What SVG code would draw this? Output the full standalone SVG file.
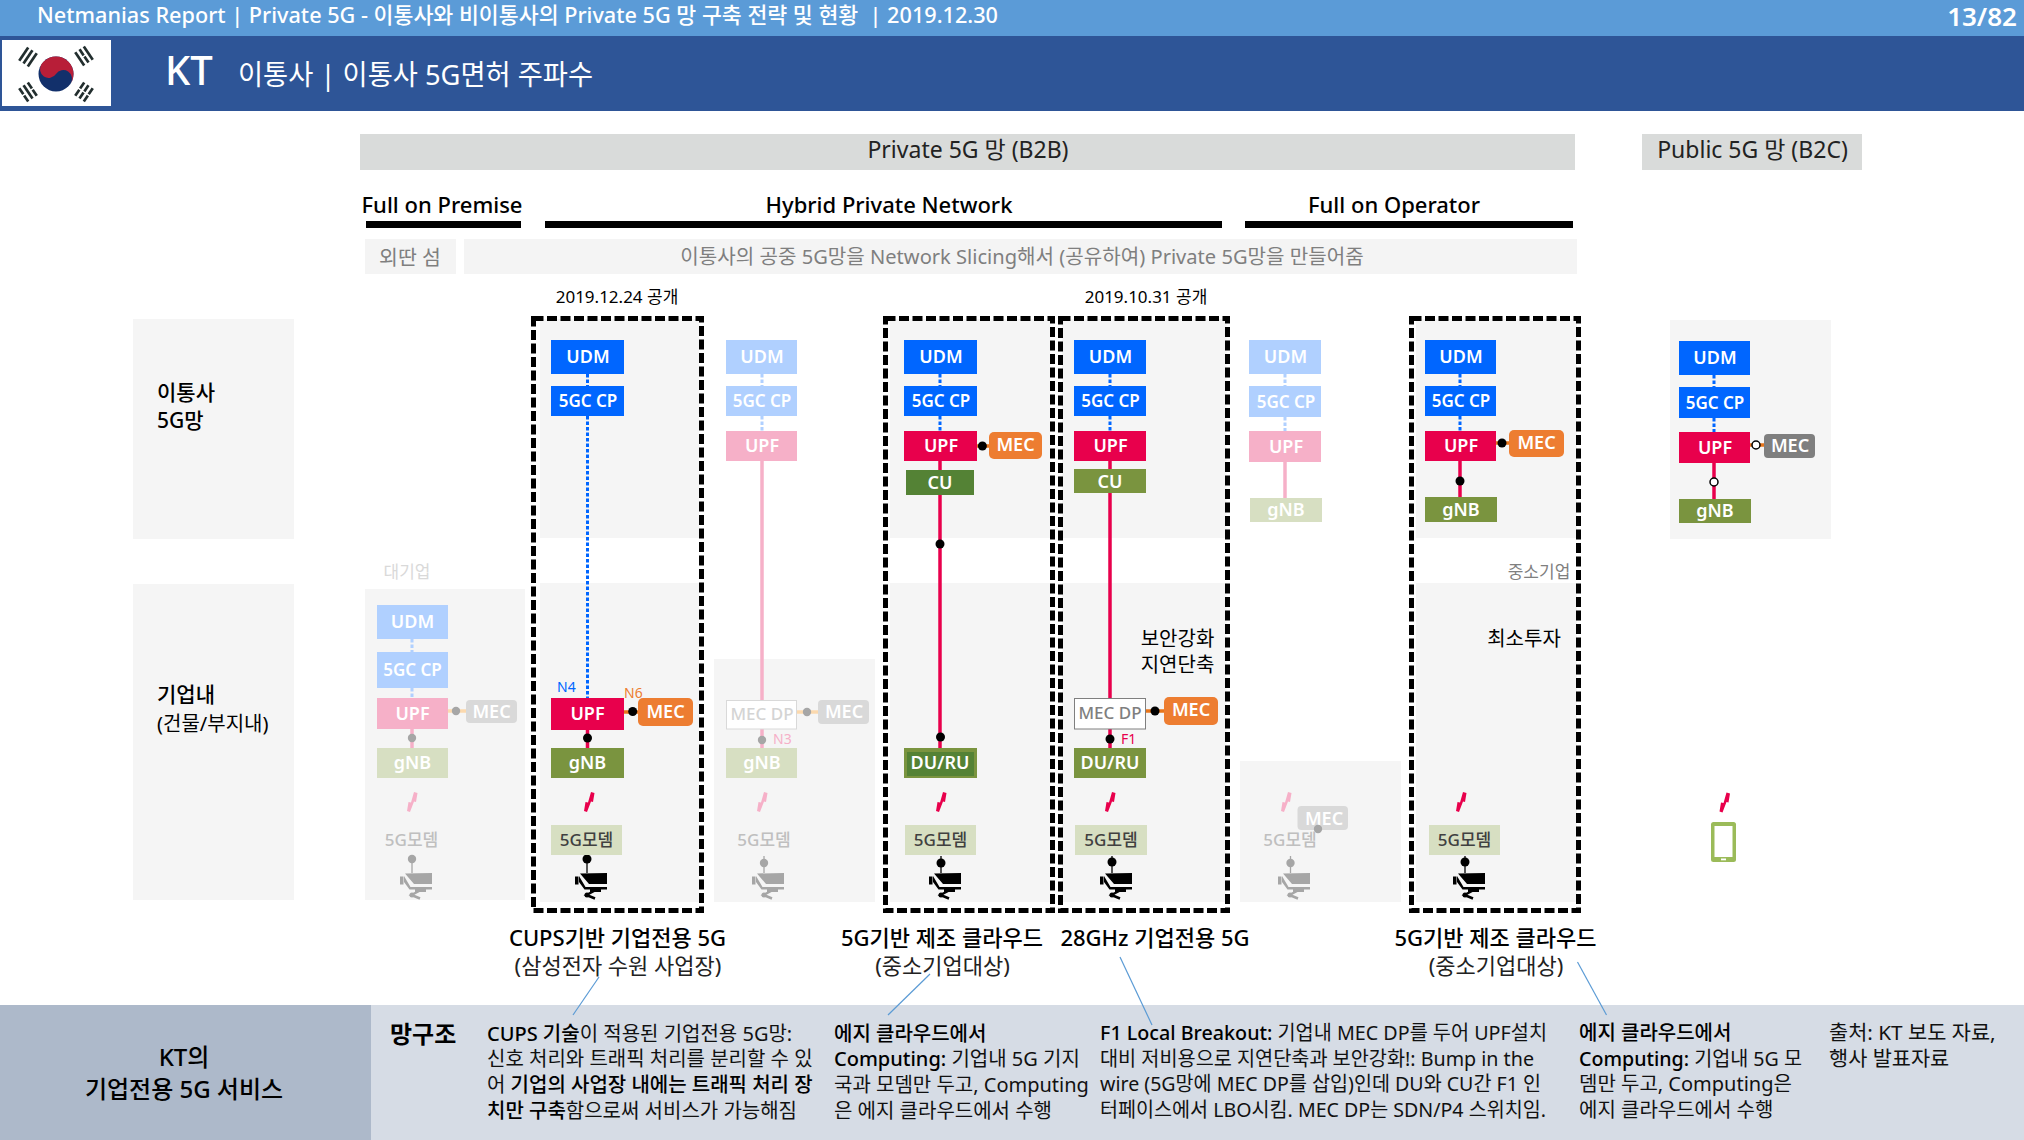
<svg xmlns="http://www.w3.org/2000/svg" width="2024" height="1140" viewBox="0 0 2024 1140">
<style>
text{font-family:"Noto Sans","Noto Sans CJK KR",sans-serif;fill:#000}
.n{fill:#fff;font-size:18px;font-weight:600;text-anchor:middle}
.cp{font-size:17px}
.m{font-size:17px;font-weight:500;text-anchor:middle;fill:#404040}
.mf{font-size:17px;font-weight:500;text-anchor:middle;fill:#bfbfbf}
.c{text-anchor:middle}
.lab{font-size:21px;font-weight:500}
.tag{font-size:14px}
.body{font-size:20px;fill:#111}
.s{font-weight:500;fill:#000}
.panel{fill:#f5f5f5}
.blue{fill:#0066ff}.bluef{fill:#b0d0ff}
.upf{fill:#e8004c}.upff{fill:#f6b0c8}
.gnb{fill:#7a943f}.gnbf{fill:#d7dfc2}.cu{fill:#548235}
.mec{fill:#ed7d31}.mecf{fill:#d9d9d9}.mecg{fill:#7f7f7f}
.dash{fill:none;stroke:#000;stroke-width:5;stroke-dasharray:10 3.500}
.l{stroke-width:3.500;fill:none}
.lb{stroke:#0066ff;stroke-width:3;stroke-dasharray:3.500 2;fill:none}
.lbf{stroke:#b0d0ff;stroke-width:3;stroke-dasharray:3.500 2;fill:none}
.lr{stroke:#e8004c}.lrf{stroke:#f6b0c8}.lo{stroke:#e8751a}.lof{stroke:#fbd9ae}
.k{fill:#000}.kf{fill:#a6a6a6}
.thin{stroke-width:1.300;fill:none}
.call{stroke:#5b9bd5;stroke-width:1.200;fill:none}
.ho{fill:#fff;stroke:#000;stroke-width:1.500}
</style>
<defs>
<g id="cam"><path d="M0 3.500h3.500v8H0zM5 .5 32 0v11H14zM4 3 10.500 14H32v2.500H9.500L4 9zM15 16.500h11v2.500H15z"/><path d="M19 18 11.500 22 20 25.500" fill="none" stroke="currentColor" stroke-width="2.500"/><circle cx="12" cy="22" r="2.500"/></g>
<path id="bolt" d="M7 0 10.500 1 9 10 7 9.500 3 20 0 19 1.500 10 4 10.500z"/>
</defs>
<rect id="band-top" width="2024" height="36" fill="#5b9bd7"/>
<rect id="band-head" y="36" width="2024" height="75" fill="#2e5597"/>
<text x="37" y="23" font-size="22" font-weight="500" style="fill:#fff;white-space:pre" textLength="961" lengthAdjust="spacingAndGlyphs">Netmanias Report | Private 5G - 이통사와 비이통사의 Private 5G 망 구축 전략 및 현황  | 2019.12.30</text>
<text x="2017" y="26" font-size="26" font-weight="600" style="fill:#fff" text-anchor="end">13/82</text>
<g id="flag">
<rect x="2" y="40" width="109" height="66" fill="#fff"/>
<circle cx="56" cy="74" r="17.500" fill="#12306b"/>
<path transform="translate(56 74) rotate(33.700)" d="M-17.500 0A17.500 17.500 0 0 1 17.500 0A8.750 8.750 0 0 0 0 0A8.750 8.750 0 0 1-17.500 0z" fill="#b81e38"/>
<g fill="#222e2e">
<g transform="translate(28 57) rotate(-56)"><rect x="-8" y="-6.500" width="16" height="2.700"/><rect x="-8" y="-1.400" width="16" height="2.700"/><rect x="-8" y="3.800" width="16" height="2.700"/></g>
<g transform="translate(84 56) rotate(56)"><rect x="-8" y="-6.500" width="16" height="2.700"/><rect x="-8" y="-1.400" width="7.300" height="2.700"/><rect x=".7" y="-1.400" width="7.300" height="2.700"/><rect x="-8" y="3.800" width="16" height="2.700"/></g>
<g transform="translate(28 92) rotate(56)"><rect x="-8" y="-6.500" width="7.300" height="2.700"/><rect x=".7" y="-6.500" width="7.300" height="2.700"/><rect x="-8" y="-1.400" width="16" height="2.700"/><rect x="-8" y="3.800" width="7.300" height="2.700"/><rect x=".7" y="3.800" width="7.300" height="2.700"/></g>
<g transform="translate(84 92) rotate(-56)"><rect x="-8" y="-6.500" width="7.300" height="2.700"/><rect x=".7" y="-6.500" width="7.300" height="2.700"/><rect x="-8" y="-1.400" width="7.300" height="2.700"/><rect x=".7" y="-1.400" width="7.300" height="2.700"/><rect x="-8" y="3.800" width="7.300" height="2.700"/><rect x=".7" y="3.800" width="7.300" height="2.700"/></g>
</g>
</g>
<text x="165" y="85" font-size="40" font-weight="500" style="fill:#fff">KT</text>
<text x="238" y="85" font-size="28" style="fill:#fff" textLength="355" lengthAdjust="spacingAndGlyphs">이통사 | 이통사 5G면허 주파수</text>

<g id="headers">
<rect x="360" y="134" width="1215" height="36" fill="#d9dbda"/>
<text x="968" y="158" font-size="23" class="c" style="fill:#222">Private 5G 망 (B2B)</text>
<rect x="1642" y="134" width="220" height="36" fill="#d9dbda"/>
<text x="1752.500" y="158" font-size="23" class="c" style="fill:#222">Public 5G 망 (B2C)</text>
<text x="442" y="213" font-size="22" font-weight="500" class="c">Full on Premise</text>
<rect x="366" y="221" width="155" height="7"/>
<text x="889" y="213" font-size="22" font-weight="500" class="c">Hybrid Private Network</text>
<rect x="545" y="221" width="677" height="7"/>
<text x="1394" y="213" font-size="22" font-weight="500" class="c">Full on Operator</text>
<rect x="1245" y="221" width="328" height="7"/>
<rect x="365" y="239" width="91" height="35" fill="#f4f4f4"/>
<text x="410" y="264.500" font-size="20.500" class="c" style="fill:#7f7f7f">외딴 섬</text>
<rect x="464" y="239" width="1113" height="35" fill="#f4f4f4"/>
<text x="1022" y="264" font-size="20.100" class="c" style="fill:#7f7f7f">이통사의 공중 5G망을 Network Slicing해서 (공유하여) Private 5G망을 만들어줌</text>
<text x="617" y="302.500" font-size="17" class="c">2019.12.24 공개</text>
<text x="1146" y="302.500" font-size="17" class="c">2019.10.31 공개</text>
</g>

<g id="panels">
<rect class="panel" x="133" y="319" width="161" height="220"/>
<rect class="panel" x="133" y="584" width="161" height="316"/>
<rect class="panel" x="365" y="589" width="160" height="311"/>
<rect class="panel" x="540" y="319" width="159" height="219"/>
<rect class="panel" x="540" y="583" width="159" height="319"/>
<rect class="panel" x="714" y="659" width="161" height="243"/>
<rect class="panel" x="890" y="319" width="160" height="219"/>
<rect class="panel" x="890" y="583" width="160" height="319"/>
<rect class="panel" x="1062" y="319" width="164.500" height="219"/>
<rect class="panel" x="1062" y="583" width="164.500" height="319"/>
<rect class="panel" x="1240" y="761" width="161" height="141"/>
<rect class="panel" x="1416" y="319" width="161" height="219"/>
<rect class="panel" x="1416" y="583" width="161" height="319"/>
<rect class="panel" x="1670" y="320" width="161" height="219"/>
</g>
<text x="157" y="400" class="lab">이통사</text>
<text x="157" y="428" class="lab">5G망</text>
<text x="157" y="702" class="lab">기업내</text>
<text x="157" y="730.500" font-size="20">(건물/부지내)</text>
<text x="407" y="578" font-size="17" class="c" style="fill:#d9d9d9">대기업</text>
<text x="1539" y="578" font-size="17" class="c" style="fill:#7f7f7f">중소기업</text>
<text x="1177.500" y="645.500" font-size="20" class="c">보안강화</text>
<text x="1177.500" y="671.500" font-size="20" class="c">지연단축</text>
<text x="1524" y="645.500" font-size="20" class="c">최소투자</text>

<g id="dashed-boxes">
<rect class="dash" x="533.500" y="318.500" width="168" height="592"/>
<rect class="dash" x="885.500" y="318.500" width="167" height="592"/>
<rect class="dash" x="1060.500" y="318.500" width="167" height="592"/>
<rect class="dash" x="1411.500" y="318.500" width="167" height="592"/>
</g>

<g id="connectors">
<path class="lbf" d="M412 639V652M412 688V698"/>
<path class="l lrf" d="M412 729V748"/><path class="l lof" d="M448 711H466"/>
<circle class="kf" cx="412" cy="738" r="4.200"/><circle class="kf" cx="456" cy="711" r="4.200"/>
<path class="thin" stroke="#a6a6a6" d="M412 860V873"/><circle class="kf" cx="412" cy="859" r="4.200"/>
<path class="lb" d="M587.500 374V386M587.500 416V698"/>
<path class="l lr" d="M587.500 730V748"/><path class="l lo" d="M624 712H638"/>
<circle class="k" cx="587.500" cy="738" r="4.500"/><circle class="k" cx="632.700" cy="711.500" r="4.500"/>
<path class="thin" stroke="#000" d="M587 859V873"/><circle class="k" cx="587" cy="859" r="4.500"/>
<path class="lbf" d="M762 374V386M762 416V431"/>
<path class="l lrf" d="M762 461V700M762 729V748"/><path class="l lof" d="M797 712H818"/>
<circle class="kf" cx="762" cy="740" r="4.200"/><circle class="kf" cx="807" cy="712" r="4.200"/>
<path class="thin" stroke="#a6a6a6" d="M764 856V873"/><circle class="kf" cx="764" cy="863" r="4.200"/>
<path class="lb" d="M940 374V386M940 416V431"/>
<path class="l lr" d="M940 461V748"/><path class="l lo" d="M977 446H989"/>
<circle class="k" cx="982.400" cy="446" r="4.500"/><circle class="k" cx="940" cy="544" r="4.500"/><circle class="k" cx="940.500" cy="737" r="4.500"/>
<path class="thin" stroke="#000" d="M941 856V873"/><circle class="k" cx="941" cy="863" r="4.500"/>
<path class="lb" d="M1110 374V386M1110 416V431"/>
<path class="l lr" d="M1110 461V698M1110 729V748"/><path class="l lo" d="M1146 711H1164"/>
<circle class="k" cx="1110" cy="739" r="4.500"/><circle class="k" cx="1155" cy="711" r="4.500"/>
<path class="thin" stroke="#000" d="M1112 856V873"/><circle class="k" cx="1112" cy="862" r="4.500"/>
<path class="lbf" d="M1285 374V386M1285 417V431"/>
<path class="l lrf" d="M1285 462V498"/>
<path class="thin" stroke="#a6a6a6" d="M1290.500 856V873"/><circle class="kf" cx="1290.500" cy="863" r="4.200"/>
<path class="lb" d="M1460 374V386M1460 416V431"/>
<path class="l lr" d="M1460 461V497"/><path class="l lo" d="M1496 443H1509"/>
<circle class="k" cx="1460" cy="481" r="4.500"/><circle class="k" cx="1502" cy="443" r="4.500"/>
<path class="thin" stroke="#000" d="M1465 856V873"/><circle class="k" cx="1465" cy="862" r="4.500"/>
<path class="lb" d="M1714 375V387M1714 418V432"/>
<path class="l lr" d="M1714 463V499"/><path class="l lo" d="M1750 445H1764"/>
<circle class="ho" cx="1714" cy="482" r="4"/><circle class="ho" cx="1756" cy="445" r="4"/>
</g>

<g id="c0-udm"><rect class="bluef" x="377" y="605" width="71" height="34"/><text class="n" x="412.500" y="628">UDM</text></g>
<g id="c0-cp"><rect class="bluef" x="377" y="652" width="71" height="36"/><text class="n cp" x="412.500" y="676">5GC CP</text></g>
<g id="c0-upf"><rect class="upff" x="377" y="698" width="71" height="31"/><text class="n" x="412.500" y="720">UPF</text></g>
<g id="c0-mec"><rect class="mecf" x="466" y="700" width="51" height="23" rx="4"/><text class="n" x="491.500" y="718">MEC</text></g>
<g id="c0-gnb"><rect class="gnbf" x="377" y="748" width="71" height="30"/><text class="n" x="412.500" y="769">gNB</text></g>
<use id="c0-bolt" href="#bolt" x="407" y="792" fill="#f6b0c8"/>
<g id="c0-modem"><text class="mf" x="411.500" y="846">5G모뎀</text></g>
<use id="c0-cam" href="#cam" x="400" y="873" fill="#a6a6a6" color="#a6a6a6"/>

<g id="c1-udm"><rect class="blue" x="551" y="340" width="73" height="34"/><text class="n" x="588" y="363">UDM</text></g>
<g id="c1-cp"><rect class="blue" x="551" y="386" width="73" height="30"/><text class="n cp" x="588" y="407">5GC CP</text></g>
<g id="c1-upf"><rect class="upf" x="551" y="698" width="73" height="32"/><text class="n" x="587.500" y="720">UPF</text></g>
<g id="c1-mec"><rect class="mec" x="638" y="698" width="55" height="28" rx="5"/><text class="n" x="665.500" y="718">MEC</text></g>
<g id="c1-gnb"><rect class="gnb" x="551" y="748" width="73" height="30"/><text class="n" x="587.500" y="769">gNB</text></g>
<use id="c1-bolt" href="#bolt" x="584" y="792" fill="#e8004c"/>
<g id="c1-modem"><rect class="gnbf" x="551" y="825" width="71" height="30"/><text class="m" x="586.500" y="846">5G모뎀</text></g>
<use id="c1-cam" href="#cam" x="575" y="873" fill="#000" color="#000"/>
<text x="557" y="692" class="tag" style="fill:#0066ff">N4</text>
<text x="624" y="698" class="tag" style="fill:#ed7d31">N6</text>

<g id="c2-udm"><rect class="bluef" x="726" y="340" width="71" height="34"/><text class="n" x="762" y="363">UDM</text></g>
<g id="c2-cp"><rect class="bluef" x="726" y="386" width="71" height="30"/><text class="n cp" x="762" y="407">5GC CP</text></g>
<g id="c2-upf"><rect class="upff" x="726" y="431" width="71" height="30"/><text class="n" x="762" y="452">UPF</text></g>
<g id="c2-dp"><rect x="726.500" y="700.500" width="70" height="28.500" fill="#fff" stroke="#d9d9d9"/><text class="n cp" style="fill:#d4d4d4;font-weight:500" x="762" y="720">MEC DP</text></g>
<g id="c2-mec"><rect class="mecf" x="818" y="700" width="51" height="24" rx="4"/><text class="n" x="844" y="718">MEC</text></g>
<g id="c2-gnb"><rect class="gnbf" x="726" y="748" width="71" height="30"/><text class="n" x="762" y="769">gNB</text></g>
<use id="c2-bolt" href="#bolt" x="757" y="792" fill="#f6b0c8"/>
<g id="c2-modem"><text class="mf" x="764" y="846">5G모뎀</text></g>
<use id="c2-cam" href="#cam" x="752" y="873" fill="#a6a6a6" color="#a6a6a6"/>
<text x="773" y="744" class="tag" style="fill:#f6b0c8">N3</text>

<g id="c3-udm"><rect class="blue" x="904" y="340" width="73" height="34"/><text class="n" x="941" y="363">UDM</text></g>
<g id="c3-cp"><rect class="blue" x="904" y="386" width="73" height="30"/><text class="n cp" x="941" y="407">5GC CP</text></g>
<g id="c3-upf"><rect class="upf" x="904" y="431" width="73" height="30"/><text class="n" x="941" y="452">UPF</text></g>
<g id="c3-mec"><rect class="mec" x="989" y="432" width="53" height="27" rx="5"/><text class="n" x="1015.500" y="451">MEC</text></g>
<g id="c3-cu"><rect class="cu" x="906" y="470" width="68" height="25"/><text class="n" x="940" y="489">CU</text></g>
<g id="c3-du"><rect class="gnb" x="904" y="748" width="73" height="30"/><rect class="cu" x="907" y="752" width="67" height="24"/><text class="n" x="940" y="769">DU/RU</text></g>
<use id="c3-bolt" href="#bolt" x="936" y="792" fill="#e8004c"/>
<g id="c3-modem"><rect class="gnbf" x="905" y="825" width="71" height="30"/><text class="m" x="940.500" y="846">5G모뎀</text></g>
<use id="c3-cam" href="#cam" x="929" y="873" fill="#000" color="#000"/>

<g id="c4-udm"><rect class="blue" x="1074" y="340" width="72" height="34"/><text class="n" x="1110.500" y="363">UDM</text></g>
<g id="c4-cp"><rect class="blue" x="1074" y="386" width="72" height="30"/><text class="n cp" x="1110.500" y="407">5GC CP</text></g>
<g id="c4-upf"><rect class="upf" x="1074" y="431" width="72" height="30"/><text class="n" x="1110.500" y="452">UPF</text></g>
<g id="c4-cu"><rect class="gnb" x="1074" y="469" width="72" height="24"/><text class="n" x="1110" y="488">CU</text></g>
<g id="c4-dp"><rect x="1074.500" y="698.500" width="71" height="30.500" fill="#fff" stroke="#7f7f7f"/><text class="n cp" style="fill:#7f7f7f;font-weight:500" x="1110" y="719">MEC DP</text></g>
<g id="c4-mec"><rect class="mec" x="1164" y="697" width="54" height="28" rx="5"/><text class="n" x="1191" y="716">MEC</text></g>
<g id="c4-du"><rect class="gnb" x="1074" y="748" width="72" height="30"/><text class="n" x="1110" y="769">DU/RU</text></g>
<use id="c4-bolt" href="#bolt" x="1105" y="792" fill="#e8004c"/>
<g id="c4-modem"><rect class="gnbf" x="1075" y="825" width="72" height="30"/><text class="m" x="1111" y="846">5G모뎀</text></g>
<use id="c4-cam" href="#cam" x="1100" y="873" fill="#000" color="#000"/>
<text x="1121" y="744" class="tag" style="fill:#e8004c">F1</text>

<g id="c5-udm"><rect class="bluef" x="1249" y="340" width="72" height="34"/><text class="n" x="1285.500" y="363">UDM</text></g>
<g id="c5-cp"><rect class="bluef" x="1249" y="386" width="72" height="31"/><text class="n cp" x="1286" y="408">5GC CP</text></g>
<g id="c5-upf"><rect class="upff" x="1249" y="431" width="72" height="31"/><text class="n" x="1286" y="453">UPF</text></g>
<g id="c5-gnb"><rect class="gnbf" x="1250" y="498" width="72" height="24"/><text class="n" x="1286" y="516">gNB</text></g>
<use id="c5-bolt" href="#bolt" x="1281" y="792" fill="#f6b0c8"/>
<g id="c5-modem"><text class="mf" x="1290" y="846">5G모뎀</text></g>
<g id="c5-mec"><rect class="mecf" x="1297.500" y="806" width="50.500" height="24" rx="4"/><text class="n" x="1324" y="825">MEC</text><circle class="kf" cx="1318" cy="829" r="4.200"/></g>
<use id="c5-cam" href="#cam" x="1278" y="873" fill="#a6a6a6" color="#a6a6a6"/>

<g id="c6-udm"><rect class="blue" x="1425" y="340" width="71" height="34"/><text class="n" x="1461" y="363">UDM</text></g>
<g id="c6-cp"><rect class="blue" x="1425" y="386" width="71" height="30"/><text class="n cp" x="1461" y="407">5GC CP</text></g>
<g id="c6-upf"><rect class="upf" x="1425" y="431" width="71" height="30"/><text class="n" x="1461" y="452">UPF</text></g>
<g id="c6-mec"><rect class="mec" x="1509" y="430" width="55" height="27" rx="5"/><text class="n" x="1536.500" y="449">MEC</text></g>
<g id="c6-gnb"><rect class="gnb" x="1425" y="497" width="72" height="25"/><text class="n" x="1461" y="516">gNB</text></g>
<use id="c6-bolt" href="#bolt" x="1456" y="792" fill="#e8004c"/>
<g id="c6-modem"><rect class="gnbf" x="1429" y="825" width="71" height="30"/><text class="m" x="1464.500" y="846">5G모뎀</text></g>
<use id="c6-cam" href="#cam" x="1453" y="873" fill="#000" color="#000"/>

<g id="c7-udm"><rect class="blue" x="1679" y="341" width="71" height="34"/><text class="n" x="1715" y="364">UDM</text></g>
<g id="c7-cp"><rect class="blue" x="1679" y="387" width="71" height="31"/><text class="n cp" x="1715" y="409">5GC CP</text></g>
<g id="c7-upf"><rect class="upf" x="1679" y="432" width="71" height="31"/><text class="n" x="1715" y="454">UPF</text></g>
<g id="c7-mec"><rect class="mecg" x="1764" y="434" width="51" height="24" rx="4"/><text class="n" x="1790" y="452">MEC</text></g>
<g id="c7-gnb"><rect class="gnb" x="1679" y="499" width="72" height="24"/><text class="n" x="1715" y="517">gNB</text></g>
<use id="c7-bolt" href="#bolt" x="1719.500" y="792.500" fill="#e8004c"/>
<g id="c7-phone"><rect x="1711" y="822" width="25" height="40" rx="2.500" fill="#9bbb59"/><rect x="1714.500" y="826" width="18" height="31" fill="#fff"/><rect x="1721" y="858.500" width="5" height="1.800" fill="#fff"/></g>

<g id="captions">
<text x="617.500" y="946" font-size="22" font-weight="500" class="c">CUPS기반 기업전용 5G</text>
<text x="618" y="974" font-size="22" class="c" style="fill:#222">(삼성전자 수원 사업장)</text>
<text x="942" y="946" font-size="22" font-weight="500" class="c">5G기반 제조 클라우드</text>
<text x="942.500" y="974" font-size="22" class="c" style="fill:#222">(중소기업대상)</text>
<text x="1155" y="946" font-size="22" font-weight="500" class="c">28GHz 기업전용 5G</text>
<text x="1495.500" y="946" font-size="22" font-weight="500" class="c">5G기반 제조 클라우드</text>
<text x="1496" y="974" font-size="22" class="c" style="fill:#222">(중소기업대상)</text>
</g>

<g id="footer">
<rect y="1005" width="2024" height="135" fill="#d6dce5"/>
<rect y="1005" width="371" height="135" fill="#adb9ca"/>
<text x="184" y="1066" font-size="24" font-weight="500" class="c">KT의</text>
<text x="184" y="1098" font-size="24" font-weight="500" class="c">기업전용 5G 서비스</text>
<text x="390" y="1043" font-size="24" font-weight="700">망구조</text>
<text class="body" x="487" y="1041"><tspan class="s">CUPS 기술</tspan>이 적용된 기업전용 5G망:</text>
<text class="body" x="487" y="1066">신호 처리와 트래픽 처리를 분리할 수 있</text>
<text class="body" x="487" y="1092">어 <tspan class="s">기업의 사업장 내에는 트래픽 처리 장</tspan></text>
<text class="body" x="487" y="1118"><tspan class="s">치만 구축</tspan>함으로써 서비스가 가능해짐</text>
<text class="body s" x="834" y="1041">에지 클라우드에서</text>
<text class="body" x="834" y="1066"><tspan class="s">Computing:</tspan> 기업내 5G 기지</text>
<text class="body" x="834" y="1092">국과 모뎀만 두고, Computing</text>
<text class="body" x="834" y="1118">은 에지 클라우드에서 수행</text>
<text class="body" x="1100" y="1040" textLength="447" lengthAdjust="spacingAndGlyphs"><tspan class="s">F1 Local Breakout:</tspan> 기업내 MEC DP를 두어 UPF설치</text>
<text class="body" x="1100" y="1066" textLength="434" lengthAdjust="spacingAndGlyphs">대비 저비용으로 지연단축과 보안강화!: Bump in the</text>
<text class="body" x="1100" y="1091" textLength="441" lengthAdjust="spacingAndGlyphs">wire (5G망에 MEC DP를 삽입)인데 DU와 CU간 F1 인</text>
<text class="body" x="1100" y="1117" textLength="446" lengthAdjust="spacingAndGlyphs">터페이스에서 LBO시킴. MEC DP는 SDN/P4 스위치임.</text>
<text class="body s" x="1579" y="1040">에지 클라우드에서</text>
<text class="body" x="1579" y="1066" textLength="223" lengthAdjust="spacingAndGlyphs"><tspan class="s">Computing:</tspan> 기업내 5G 모</text>
<text class="body" x="1579" y="1091">뎀만 두고, Computing은</text>
<text class="body" x="1579" y="1117">에지 클라우드에서 수행</text>
<text class="body" x="1829" y="1040" style="font-size:20.800px">출처: KT 보도 자료,</text>
<text class="body" x="1829" y="1066" style="font-size:20.800px">행사 발표자료</text>
</g>
<g id="callouts">
<path class="call" d="M599 977 573 1015"/>
<path class="call" d="M930 974 888 1015"/>
<path class="call" d="M1120 957 1152 1025"/>
<path class="call" d="M1577.500 962 1606.500 1015"/>
</g>
</svg>
